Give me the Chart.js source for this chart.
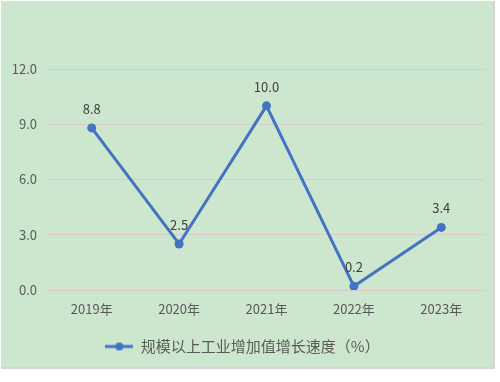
<!DOCTYPE html>
<html lang="zh">
  <head>
    <meta charset="UTF-8" />
    <title>规模以上工业增加值增长速度</title>
    <script src="https://cdn.jsdelivr.net/npm/chart.js"></script>
    <style>
      body { margin: 0; background: #fff; }
      #panel {
        position: absolute; left: 1px; top: 1px; width: 492px; height: 366px;
        background: #cde7cf; border-right: 2px solid #d4d4d4; border-bottom: 2px solid #d4d4d4;
      }
      #wrap { position: absolute; left: 0; top: 0; width: 500px; height: 382px; }
    </style>
  </head>
  <body>
    <div id="panel"></div>
    <div id="wrap"><canvas id="growthChart" width="500" height="382"></canvas></div>

    <script>
      const years = ["2019年", "2020年", "2021年", "2022年", "2023年"];
      const growth = [8.8, 2.5, 10.0, 0.2, 3.4];
      const seriesName = "规模以上工业增加值增长速度（%）";
      const yTicks = [0, 3, 6, 9, 12];

      const blue = "#4472c4";
      const textColor = "#595959";
      const font = '"Noto Sans CJK SC", "DejaVu Sans", sans-serif';

      // legend marker: short line with a dot in the middle
      const marker = document.createElement("canvas");
      marker.width = 28;
      marker.height = 10;
      const m = marker.getContext("2d");
      m.strokeStyle = blue;
      m.lineWidth = 3;
      m.beginPath();
      m.moveTo(0, 5);
      m.lineTo(28, 5);
      m.stroke();
      m.fillStyle = blue;
      m.beginPath();
      m.arc(14, 5, 4, 0, Math.PI * 2);
      m.fill();

      // value labels above each point
      const valueLabels = {
        id: "valueLabels",
        afterDatasetsDraw(chart) {
          const c = chart.ctx;
          const meta = chart.getDatasetMeta(0);
          c.save();
          c.font = "13px " + font;
          c.fillStyle = "#404040";
          c.textAlign = "center";
          c.textBaseline = "middle";
          meta.data.forEach((pt, i) => {
            c.fillText(growth[i].toFixed(1), pt.x, pt.y - 19);
          });
          c.restore();
        },
      };

      new Chart(document.getElementById("growthChart"), {
        type: "line",
        data: {
          labels: years,
          datasets: [
            {
              label: seriesName,
              data: growth,
              borderColor: blue,
              backgroundColor: blue,
              borderWidth: 3,
              pointRadius: 4.5,
              pointBackgroundColor: blue,
              pointBorderWidth: 0,
              tension: 0,
              pointStyle: "circle",
            },
          ],
        },
        options: {
          responsive: false,
          animation: false,
          layout: { padding: { top: 69, right: 15, bottom: 18, left: 0 } },
          scales: {
            x: {
              offset: true,
              grid: { display: false },
              border: { display: false },
              ticks: { color: textColor, font: { size: 13, family: font }, padding: 3 },
              afterFit(scale) { scale.height = 37; },
            },
            y: {
              min: 0,
              max: 12,
              afterBuildTicks(scale) { scale.ticks = yTicks.map((v) => ({ value: v })); },
              grid: { color: "#d5cad2", drawTicks: false },
              border: { display: false },
              ticks: {
                color: textColor,
                font: { size: 13, family: font },
                padding: 11,
                callback: (v) => Number(v).toFixed(1),
              },
              afterFit(scale) { scale.width = 48; },
            },
          },
          plugins: {
            legend: {
              position: "bottom",
              labels: {
                color: textColor,
                font: { size: 15, family: font },
                usePointStyle: true,
                pointStyle: marker,
                pointStyleWidth: 28,
                padding: 12,
                generateLabels: (chart) => [
                  { text: seriesName, pointStyle: marker, fontColor: textColor, lineWidth: 0, datasetIndex: 0 },
                ],
              },
            },
            tooltip: { enabled: false },
          },
        },
        plugins: [valueLabels],
      });
    </script>
  </body>
</html>
